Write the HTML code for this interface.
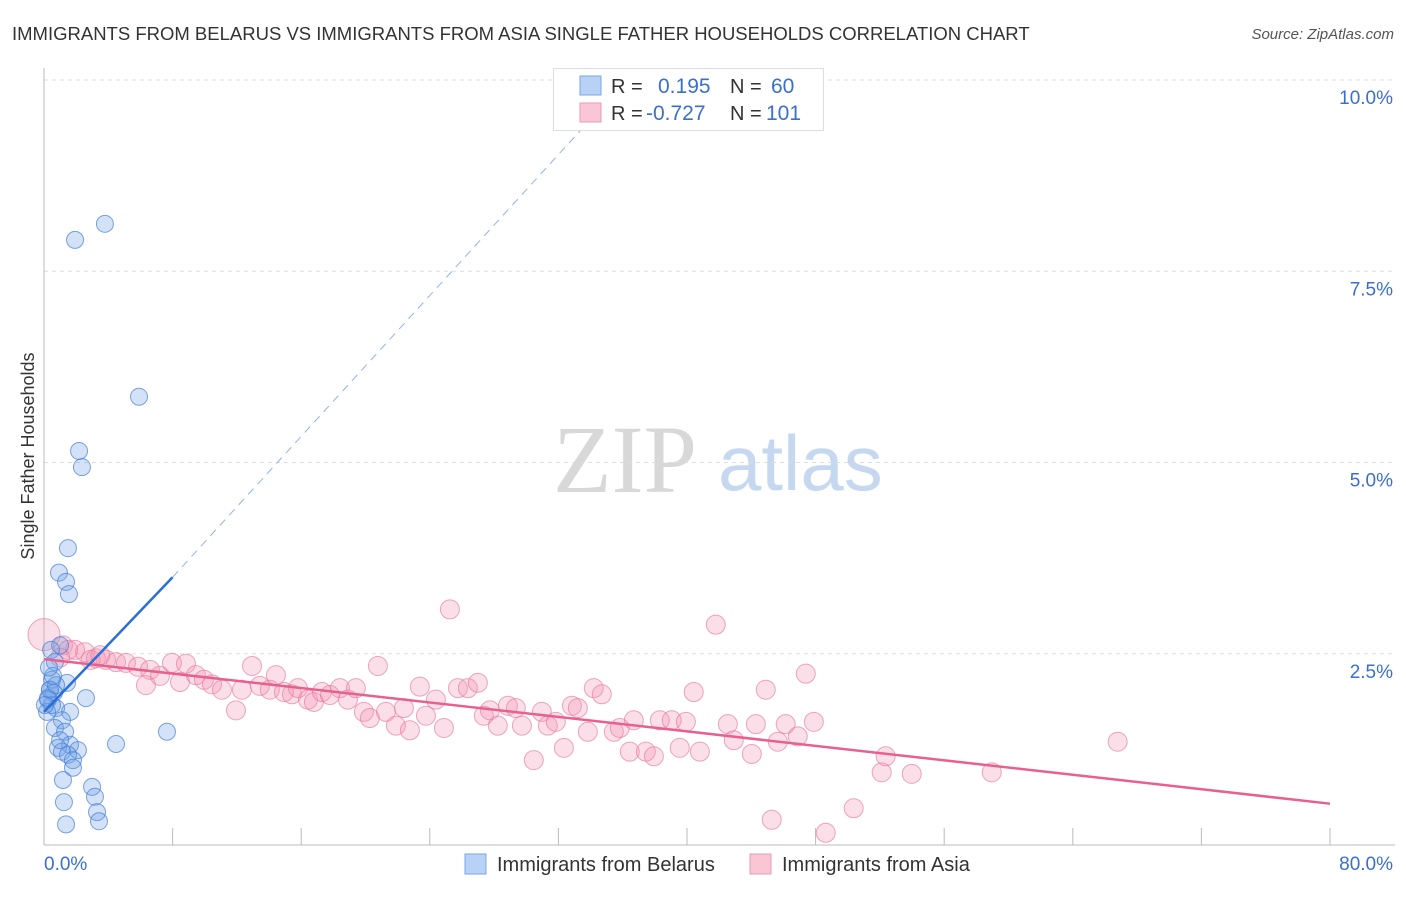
<!DOCTYPE html>
<html><head><meta charset="utf-8"><style>
body{margin:0;background:#fff;font-family:"Liberation Sans",sans-serif;}
svg text{font-family:"Liberation Sans",sans-serif;}
</style></head><body>
<svg id="chart" width="1406" height="892" xmlns="http://www.w3.org/2000/svg">
<text x="12" y="40" font-size="18.5" fill="#333">IMMIGRANTS FROM BELARUS VS IMMIGRANTS FROM ASIA SINGLE FATHER HOUSEHOLDS CORRELATION CHART</text>
<text x="1394" y="39" font-size="15" fill="#555" text-anchor="end" font-style="italic">Source: ZipAtlas.com</text>
<g>
<text x="553" y="492" font-size="96" fill="#d8d8d8" font-family="Liberation Serif" style="font-family:'Liberation Serif',serif">ZIP</text>
<text x="718" y="490" font-size="78" fill="#c6d8f0">atlas</text>
</g>
<g id="grid"></g>
<g id="axes"></g>
<g id="marks"></g>
<text transform="translate(34,456) rotate(-90)" font-size="18" fill="#333" text-anchor="middle">Single Father Households</text>
<g>
<rect x="553.5" y="68.5" width="270" height="62" fill="#fff" stroke="#ddd"/>
<rect x="580" y="76" width="21" height="19" fill="#b8d2f5" stroke="#7aa6e6"/>
<rect x="580" y="103" width="21" height="19" fill="#f9c6d6" stroke="#eb9ab5"/>
<text x="611" y="93" font-size="20" fill="#333">R =</text>
<text x="658" y="93" font-size="21" fill="#3a6fd1">0.195</text>
<text x="730" y="93" font-size="20" fill="#333">N =</text>
<text x="771" y="93" font-size="21" fill="#3a6fd1">60</text>
<text x="611" y="120" font-size="20" fill="#333">R =</text>
<text x="646" y="120" font-size="21" fill="#3a6fd1">-0.727</text>
<text x="730" y="120" font-size="20" fill="#333">N =</text>
<text x="766" y="120" font-size="21" fill="#3a6fd1">101</text>
</g>
<g>
<rect x="465" y="854" width="21" height="20" fill="#b8d2f5" stroke="#7aa6e6"/>
<text x="497" y="871" font-size="20" fill="#333">Immigrants from Belarus</text>
<rect x="750" y="854" width="21" height="20" fill="#f9c6d6" stroke="#eb9ab5"/>
<text x="782" y="871" font-size="20" fill="#333">Immigrants from Asia</text>
</g>
</svg>
<script>
const blueX=[1.93,3.79,5.91,2.18,2.36,1.49,0.93,1.37,1.55,0.44,1.0,0.68,0.5,0.37,0.62,0.25,0.75,0.19,0.5,1.43,2.61,1.62,1.12,0.68,7.65,4.48,1.31,1.62,2.11,0.87,1.12,1.49,1.80,1.0,1.80,1.18,2.99,3.17,1.24,3.30,1.37,3.42,0.37,0.25,0.06,0.75,0.56,0.31];
const blueY=[7.91,8.12,5.86,5.15,4.94,3.88,3.56,3.44,3.28,2.55,2.61,2.39,2.16,2.03,1.99,1.90,1.79,1.74,1.83,2.12,1.92,1.74,1.63,1.53,1.48,1.32,1.48,1.31,1.24,1.27,1.22,1.18,1.11,1.37,1.01,0.85,0.76,0.63,0.56,0.43,0.27,0.31,2.03,1.92,1.83,2.09,2.21,2.32];
const pinkX=[0,1.18,1.93,2.55,3.23,3.86,4.48,5.10,5.85,6.59,6.34,7.21,7.96,8.46,8.83,9.45,9.95,10.45,11.07,11.94,12.31,12.94,13.43,14.05,14.43,14.93,15.42,15.80,16.42,16.79,17.29,17.79,18.41,18.91,19.40,19.90,20.27,20.77,21.27,21.89,22.39,22.76,23.38,23.76,24.38,24.88,25.25,25.75,26.37,26.99,27.36,27.74,28.23,28.86,29.35,29.73,30.47,30.97,31.34,31.84,32.34,32.84,33.21,33.83,34.20,34.70,35.45,35.82,36.44,36.69,37.44,37.94,38.31,39.05,39.55,39.93,40.42,40.80,41.79,42.54,42.91,44.03,44.28,44.90,45.27,45.65,46.14,46.89,47.39,47.89,48.63,50.37,52.11,52.36,53.98,58.96,66.79,1.5,2.9,3.5,1.0];
const pinkY=[2.75,2.61,2.55,2.52,2.44,2.42,2.39,2.38,2.33,2.29,2.09,2.21,2.38,2.13,2.37,2.22,2.16,2.10,2.03,1.76,2.03,2.34,2.08,2.03,2.22,2.00,1.97,2.05,1.90,1.87,2.00,1.96,2.05,1.90,2.05,1.74,1.66,2.34,1.74,1.56,1.79,1.50,2.07,1.69,1.90,1.53,3.08,2.05,2.05,2.12,1.69,1.76,1.56,1.82,1.79,1.56,1.11,1.74,1.56,1.61,1.27,1.82,1.79,1.48,2.05,1.97,1.48,1.53,1.22,1.63,1.22,1.16,1.63,1.63,1.27,1.61,2.00,1.22,2.88,1.58,1.37,1.19,1.58,2.03,0.33,1.35,1.58,1.42,2.24,1.61,0.16,0.48,0.95,1.16,0.93,0.95,1.35,2.55,2.42,2.48,2.45];
const yTicks=[2.5,5.0,7.5,10.0];
const yTickLabels=["2.5%","5.0%","7.5%","10.0%"];
const xTicks=[0,8,16,24,32,40,48,56,64,72,80];
const blueTrend=[[0,1.74],[8,3.5]];
const blueDash=[[8,3.5],[34.5,9.6]];
const pinkTrend=[[0,2.43],[80,0.54]];

const X0=44,X1=1330,Y0=845,PXY=76.5;
const sx=v=>X0+v*(X1-X0)/80;
const sy=v=>Y0-v*PXY;
const NS="http://www.w3.org/2000/svg";
function mk(tag,parent,attrs){const e=document.createElementNS(NS,tag);for(const k in attrs)e.setAttribute(k,attrs[k]);document.getElementById(parent).appendChild(e);return e;}

yTicks.forEach((t,i)=>{
  const g=mk('line','grid',{x1:X0,x2:1395,y1:sy(t),y2:sy(t),stroke:'#ddd','stroke-dasharray':'4,4'});
  
  
  const l=mk('text','axes',{x:1393,y:sy(t)+24,'font-size':19,fill:'#3a6fd1','text-anchor':'end'});
  l.textContent=yTickLabels[i];
  
  
});
const ax=mk('line','axes',{x1:X0,x2:X0,y1:68,y2:Y0,stroke:'#bbb'});


const axx=mk('line','axes',{x1:X0,x2:1395,y1:Y0,y2:Y0,stroke:'#bbb'});


xTicks.forEach(t=>{
  const k=mk('line','axes',{x1:sx(t),x2:sx(t),y1:Y0,y2:Y0-17,stroke:'#bbb'});
  
  
});
const xl0=mk('text','axes',{x:44,y:870,'font-size':19,fill:'#3a6fd1'});xl0.textContent='0.0%';


const xl1=mk('text','axes',{x:1393,y:870,'font-size':19,fill:'#3a6fd1','text-anchor':'end'});xl1.textContent='80.0%';



pinkX.forEach((x,i)=>{
  const c=mk('circle','marks',{cx:sx(x),cy:sy(pinkY[i]),r:i===0?16:9.5,fill:'rgba(243,150,180,0.3)',stroke:'rgba(230,120,155,0.65)','stroke-width':1});
  
  
});
blueX.forEach((x,i)=>{
  const c=mk('circle','marks',{cx:sx(x),cy:sy(blueY[i]),r:8.5,fill:'rgba(110,160,230,0.3)',stroke:'rgba(70,125,215,0.7)','stroke-width':1});
  
  
});
const pl=mk('line','marks',{x1:sx(pinkTrend[0][0]),y1:sy(pinkTrend[0][1]),x2:sx(pinkTrend[1][0]),y2:sy(pinkTrend[1][1]),stroke:'#e8608e','stroke-width':2.5});


const bl=mk('line','marks',{x1:sx(blueTrend[0][0]),y1:sy(blueTrend[0][1]),x2:sx(blueTrend[1][0]),y2:sy(blueTrend[1][1]),stroke:'#2a6fd6','stroke-width':2.5});


const bd=mk('line','marks',{x1:sx(blueDash[0][0]),y1:sy(blueDash[0][1]),x2:sx(blueDash[1][0]),y2:sy(blueDash[1][1]),stroke:'#8fb4ea','stroke-width':1,'stroke-dasharray':'8,6'});


</script>
</body></html>
